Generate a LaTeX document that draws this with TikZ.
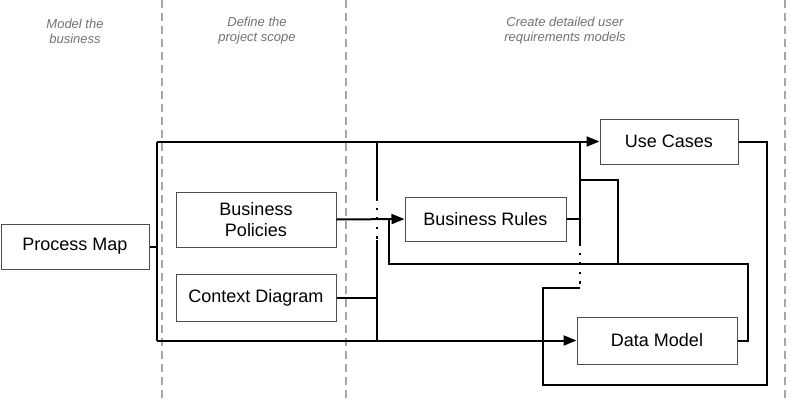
\documentclass[tikz,border=0pt]{standalone}
\usepackage{fontspec}
\setmainfont{Liberation Sans}
\usetikzlibrary{arrows.meta}
\begin{document}
\begin{tikzpicture}[x=1pt,y=-1pt,
  box/.style={draw=black!70,line width=1pt,rectangle,inner sep=0pt,align=center,
    font=\fontsize{18}{21}\selectfont},
  hdr/.style={align=center,text=black!55,font=\fontsize{13}{15}\selectfont\itshape},
  lane/.style={draw=black!35,line width=1.8pt,dash pattern=on 8pt off 5pt},
  conn/.style={draw=black,line width=2pt},
  arr/.style={conn,-{Triangle[length=13pt,width=10pt]}},
  dots/.style={draw=black,line width=2pt,dash pattern=on 2.5pt off 7pt}]
\useasboundingbox (0,0) rectangle (804,402);
\fill[white] (0,0) rectangle (804,402);
% lane separators
\draw[lane] (162,0) -- (162,402);
\draw[lane] (346,0) -- (346,402);
\draw[lane] (785,0) -- (785,402);
% headers
\node[hdr] (h1) at (75,31) {Model the\\business};
\node[hdr] (h2) at (257,31) {Define the\\project scope};
\node[hdr] (h3) at (565,31) {Create detailed user\\requirements models};
% boxes
\node[box,minimum width=148pt,minimum height=45pt] (pm) at (75,246.5) {Process Map};
\node[box,minimum width=160pt,minimum height=55pt] (bp) at (256,219.5) {Business\\Policies};
\node[box,minimum width=160pt,minimum height=47pt] (cd) at (256,297.5) {Context Diagram};
\node[box,minimum width=161pt,minimum height=44pt] (br) at (485.5,219) {Business Rules};
\node[box,minimum width=138pt,minimum height=45pt] (uc) at (669,141.5) {Use Cases};
\node[box,minimum width=160pt,minimum height=47pt] (dm) at (657,340.5) {Data Model};
% coordinates
\coordinate (bt) at (157,141.5);
\coordinate (bb) at (157,340.5);
\coordinate (pmj) at (157,246.5);
\coordinate (v1t) at (377,141.5);
\coordinate (v1a) at (377,198);
\coordinate (v1b) at (377,240);
\coordinate (v1bot) at (377,340.5);
\coordinate (cdj) at (377,297.5);
\coordinate (v2t) at (580,141.5);
\coordinate (v2a) at (580,243);
\coordinate (v2b) at (580,288);
\coordinate (brj) at (580,219);
\coordinate (fbj) at (389,219);
% connectors
\draw[conn] (pm.east) -- (pmj);
\draw[conn] (bb) -- (bt);
\draw[arr] (bt) -- (uc.west);
\draw[arr] (bb) -- (dm.west);
\draw[conn] (v1t) -- (v1a);
\draw[dots] (v1a) -- (v1b);
\draw[conn] (v1b) -- (v1bot);
\draw[conn] (cd.east) -- (cdj);
\draw[arr] (bp.east) -- (br.west);
\draw[conn] (v2t) -- (v2a);
\draw[dots] (v2a) -- (v2b);
\draw[conn] (br.east) -- (brj);
\draw[conn] (580,180) -- (618,180) -- (618,264);
\draw[conn] (dm.east) -- (748,340.5) -- (748,264) -- (389,264) -- (fbj);
\draw[conn] (uc.east) -- (767,141.5) -- (767,385) -- (543,385) -- (543,288) -- (v2b);
\end{tikzpicture}
\end{document}
